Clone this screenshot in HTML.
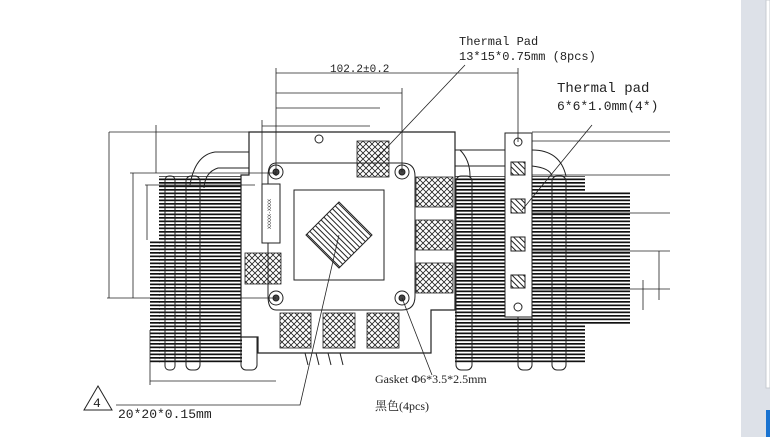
<!DOCTYPE html>
<html><head><meta charset="utf-8"><style>
html,body{margin:0;padding:0;background:#fff;width:770px;height:437px;overflow:hidden}
svg{display:block}
text{font-family:"Liberation Mono","Noto Sans CJK SC",monospace;fill:#222}
</style></head><body>
<svg width="770" height="437" viewBox="0 0 770 437" xmlns="http://www.w3.org/2000/svg">
<defs>
<pattern id="fin" width="10" height="3.5" patternUnits="userSpaceOnUse"><rect width="10" height="1.7" fill="#111"/></pattern>
<pattern id="xh" width="6" height="6" patternUnits="userSpaceOnUse"><path d="M0 0L6 6M6 0L0 6" stroke="#222" stroke-width="0.8"/></pattern>
<pattern id="dh" width="4" height="4" patternUnits="userSpaceOnUse" patternTransform="rotate(45)"><rect width="4" height="1" fill="#222"/></pattern>
</defs>
<rect width="770" height="437" fill="#fff"/>
<!-- fins -->
<rect x="159" y="176" width="83" height="187" fill="url(#fin)"/>
<rect x="150" y="240" width="10" height="123" fill="url(#fin)"/>
<rect x="455" y="176" width="130" height="187" fill="url(#fin)"/>
<rect x="585" y="192" width="45" height="133" fill="url(#fin)"/>
<!-- pipe columns -->
<g fill="none" stroke="#222" stroke-width="1">
<rect x="165" y="176" width="10" height="194" rx="4"/>
<rect x="186" y="176" width="14" height="194" rx="5"/>
<rect x="241" y="176" width="16" height="194" rx="5"/>
<rect x="456" y="176" width="16" height="194" rx="5"/>
<rect x="518" y="176" width="14" height="194" rx="5"/>
<rect x="552" y="176" width="14" height="194" rx="5"/>
</g>
<!-- heatpipes -->
<g fill="none" stroke="#222" stroke-width="1">
<path d="M249 152H215Q195 155 190 185"/><path d="M249 168H218Q205 172 204 188"/>
<path d="M455 150H505M455 166H505"/>
<path d="M460 150Q470 160 470 176"/>
<path d="M532 150Q560 150 566 176M532 166Q550 168 552 176"/>
</g>
<!-- main plate -->
<path d="M249 132H455V310H431V353H258V337H241V175H249Z" fill="#fff" stroke="#222" stroke-width="1.2"/>
<!-- chip plate -->
<path d="M276 163H402Q415 163 415 176V296Q415 310 402 310H276Q268 310 268 296V176Q268 163 276 163Z" fill="#fff" stroke="#222"/>
<rect x="294" y="190" width="90" height="90" fill="#fff" stroke="#222"/>
<polygon points="339,202 372,235 339,268 306,235" fill="url(#dh)" stroke="#222"/>
<rect x="262" y="184" width="18" height="59" fill="#fff" stroke="#222"/>
<text x="271" y="214" font-size="5" text-anchor="middle" transform="rotate(-90 271 214)">XXXXX-XXXX</text>
<!-- pads -->
<g fill="url(#xh)" stroke="#222" stroke-width="0.8">
<rect x="357" y="141" width="32" height="36"/>
<rect x="416" y="177" width="37" height="30"/><rect x="416" y="220" width="37" height="30"/><rect x="416" y="263" width="37" height="30"/>
<rect x="245" y="253" width="36" height="31"/>
<rect x="280" y="313" width="31" height="35"/><rect x="323" y="313" width="32" height="35"/><rect x="367" y="313" width="32" height="35"/>
</g>
<!-- holes -->
<g fill="#fff" stroke="#222">
<circle cx="276" cy="172" r="7"/><circle cx="276" cy="172" r="3" fill="#444"/>
<circle cx="402" cy="172" r="7"/><circle cx="402" cy="172" r="3" fill="#444"/>
<circle cx="276" cy="298" r="7"/><circle cx="276" cy="298" r="3" fill="#444"/>
<circle cx="402" cy="298" r="7"/><circle cx="402" cy="298" r="3" fill="#444"/>
<circle cx="319" cy="139" r="4"/>
</g>
<!-- bottom teeth -->
<g stroke="#222" fill="none"><path d="M305 353l3 12M316 353l3 12M328 353l3 12M340 353l3 12"/></g>
<!-- right bracket -->
<rect x="505" y="133" width="27" height="184" fill="#fff" stroke="#222"/>
<g fill="url(#dh)" stroke="#222"><rect x="511" y="162" width="14" height="13"/><rect x="511" y="199" width="14" height="14"/><rect x="511" y="237" width="14" height="14"/><rect x="511" y="275" width="14" height="13"/></g>
<circle cx="518" cy="142" r="4" fill="#fff" stroke="#222"/><circle cx="518" cy="307" r="4" fill="#fff" stroke="#222"/>
<!-- dimension lines -->
<g stroke="#222" stroke-width="0.8" fill="none">
<path d="M276 73H518M276 93H402M276 108H380M262 126H370"/>
<path d="M276 68V176M518 68V142M402 88V172M262 120V184"/>
<path d="M109 132H249M130 173H276M145 185H255M107 298H276"/>
<path d="M109 132V298M133 173V298M147 185V240M156 125V173"/>
<path d="M532 132H670M532 141H670M532 175H670M532 213H670M532 251H670M532 289H670"/>
<path d="M659 251V300M643 280V310"/>
<path d="M150 330V385M150 381H276"/>
<path d="M116 405H300L339 235"/>
<path d="M465 65L375 160"/><path d="M592 125L522 210"/><path d="M402 298L432 375"/>
</g>
<text x="330" y="72" font-size="11">102.2±0.2</text>
<!-- labels -->
<text x="459" y="45" font-size="12">Thermal Pad</text>
<text x="459" y="60" font-size="12">13*15*0.75mm (8pcs)</text>
<text x="557" y="92" font-size="14">Thermal pad</text>
<text x="557" y="110" font-size="13">6*6*1.0mm(4*)</text>
<text x="375" y="383" font-size="12" style="font-family:'Liberation Serif','Noto Serif CJK SC',serif">Gasket Φ6*3.5*2.5mm</text>
<text x="375" y="410" font-size="12" style="font-family:'Liberation Serif','Noto Serif CJK SC',serif">黑色(4pcs)</text>
<polygon points="98,386 84,410 112,410" fill="none" stroke="#222"/>
<text x="93" y="407" font-size="13">4</text>
<text x="118" y="418" font-size="13">20*20*0.15mm</text>
<!-- right gray strip -->
<rect x="741" y="0" width="29" height="437" fill="#dde1e8"/>
<rect x="766" y="0" width="4" height="388" fill="#fff" stroke="#c8ccd2"/>
<rect x="766" y="410" width="4" height="27" fill="#1a73d0"/>
</svg>
</body></html>
